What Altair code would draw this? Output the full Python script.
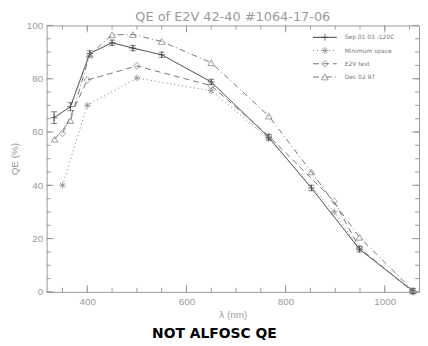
import altair as alt
import pandas as pd

# ---- data ----
series_names = ["Sep 01 03 -120C", "Minimum space", "E2V test", "Dec 02 97"]

wl_sep = [333, 366, 405, 450, 492, 550, 650, 766, 852, 949, 1057]
qe_sep = [65.4, 69.5, 89.5, 93.5, 91.5, 89.0, 78.8, 58.0, 39.0, 16.0, 0.3]
err_sep = [2.2, 1.5, 1.0, 1.0, 1.0, 1.0, 1.0, 1.0, 1.0, 1.0, 1.0]

wl_min = [350, 400, 500, 650, 766, 898, 949, 1057]
qe_min = [40.0, 70.0, 80.3, 75.5, 57.5, 30.0, 16.0, 0.0]

wl_e2v = [350, 400, 500, 650, 766, 898, 949, 1057]
qe_e2v = [59.5, 79.5, 84.8, 77.4, 58.5, 34.0, 16.5, 0.0]

wl_dec = [334, 366, 405, 450, 492, 550, 650, 766, 852, 949, 1057]
qe_dec = [57.3, 64.3, 89.0, 96.5, 96.6, 94.0, 86.0, 66.0, 45.0, 20.5, 0.5]

x_domain = [318, 1069]
y_domain = [0, 100]
x_major = [400, 600, 800, 1000]
x_minor = list(range(350, 1051, 50))
y_major = list(range(0, 101, 20))
y_minor = list(range(0, 101, 5))

rows = []
for name, wl, qe in [
    (series_names[0], wl_sep, qe_sep),
    (series_names[1], wl_min, qe_min),
    (series_names[2], wl_e2v, qe_e2v),
    (series_names[3], wl_dec, qe_dec),
]:
    for w, q in zip(wl, qe):
        rows.append({"series": name, "wl": w, "qe": q})
df = pd.DataFrame(rows)

err_df = pd.DataFrame({
    "wl": wl_sep,
    "lo": [q - e for q, e in zip(qe_sep, err_sep)],
    "hi": [q + e for q, e in zip(qe_sep, err_sep)],
})
leg_df = pd.DataFrame({"series": series_names})
xmaj_df = pd.DataFrame({"v": x_major})
xmin_df = pd.DataFrame({"v": x_minor})
ymaj_df = pd.DataFrame({"v": y_major})
ymin_df = pd.DataFrame({"v": y_minor})

# ---- styles ----
W, H = 376, 269
GRAY = "#9a9a9a"
FONT = "DejaVu Sans"
LFONT = "Liberation Sans"
PLUS = "M-1,0L1,0M0,-1L0,1"
STAR = "M-1,0L1,0M0,-1L0,1M-0.7,-0.7L0.7,0.7M-0.7,0.7L0.7,-0.7"
MAJ, MIN = 7, 4

dash_scale = alt.Scale(domain=series_names, range=[[1, 0], [1, 3], [6, 4], [6, 3, 1, 3]])
shape_scale = alt.Scale(domain=series_names, range=[PLUS, STAR, "diamond", "triangle-up"])
color_scale = alt.Scale(domain=series_names, range=["#333333", "#777777", "#777777", "#777777"])
xs = alt.Scale(domain=x_domain, nice=False, zero=False)
ys = alt.Scale(domain=y_domain, nice=False)

base = alt.Chart(df)

lines = base.mark_line(strokeWidth=1).encode(
    x=alt.X("wl:Q", scale=xs, axis=alt.Axis(
        orient="bottom", values=x_major, ticks=False, domain=False, grid=False, format="d",
        title="λ (nm)", labelPadding=5, titlePadding=3)),
    y=alt.Y("qe:Q", scale=ys, axis=alt.Axis(
        orient="left", values=y_major, ticks=False, domain=False, grid=False,
        title="QE (%)", labelPadding=4, titlePadding=7)),
    strokeDash=alt.StrokeDash("series:N", scale=dash_scale, legend=None),
    color=alt.Color("series:N", scale=color_scale, legend=None),
    detail="series:N",
)

points = base.mark_point(filled=False, size=45, strokeWidth=1).encode(
    x=alt.X("wl:Q", scale=xs, axis=None),
    y=alt.Y("qe:Q", scale=ys, axis=None),
    shape=alt.Shape("series:N", scale=shape_scale, legend=None),
    color=alt.Color("series:N", scale=color_scale, legend=None),
)

err_rule = alt.Chart(err_df).mark_rule(color="#555555", strokeWidth=1).encode(
    x=alt.X("wl:Q", scale=xs, axis=None),
    y=alt.Y("lo:Q", scale=ys, axis=None),
    y2="hi:Q",
)
err_lo = alt.Chart(err_df).mark_tick(orient="horizontal", size=6, thickness=1, color="#555555").encode(
    x=alt.X("wl:Q", scale=xs, axis=None),
    y=alt.Y("lo:Q", scale=ys, axis=None),
)
err_hi = alt.Chart(err_df).mark_tick(orient="horizontal", size=6, thickness=1, color="#555555").encode(
    x=alt.X("wl:Q", scale=xs, axis=None),
    y=alt.Y("hi:Q", scale=ys, axis=None),
)

# inside ticks on all four edges of the box
def xticks(d, length):
    bot = alt.Chart(d).mark_rule(color=GRAY, strokeWidth=1).encode(
        x=alt.X("v:Q", scale=xs, axis=None), y=alt.value(H), y2=alt.value(H - length))
    top = alt.Chart(d).mark_rule(color=GRAY, strokeWidth=1).encode(
        x=alt.X("v:Q", scale=xs, axis=None), y=alt.value(0), y2=alt.value(length))
    return [bot, top]

def yticks(d, length):
    left = alt.Chart(d).mark_rule(color=GRAY, strokeWidth=1).encode(
        y=alt.Y("v:Q", scale=ys, axis=None), x=alt.value(0), x2=alt.value(length))
    right = alt.Chart(d).mark_rule(color=GRAY, strokeWidth=1).encode(
        y=alt.Y("v:Q", scale=ys, axis=None), x=alt.value(W), x2=alt.value(W - length))
    return [left, right]

tick_layers = xticks(xmaj_df, MAJ) + xticks(xmin_df, MIN) + yticks(ymaj_df, MAJ) + yticks(ymin_df, MIN)

leg_y = alt.Y("series:N", sort=series_names, axis=None,
              scale=alt.Scale(type="point", domain=series_names, range=[12, 52], padding=0))
leg_base = alt.Chart(leg_df)
leg_rule = leg_base.mark_rule(strokeWidth=1).encode(
    x=alt.value(269), x2=alt.value(293), y=leg_y,
    strokeDash=alt.StrokeDash("series:N", scale=dash_scale, legend=None),
    color=alt.Color("series:N", scale=color_scale, legend=None),
)
leg_pts = leg_base.mark_point(filled=False, size=45, strokeWidth=1).encode(
    x=alt.value(281), y=leg_y,
    shape=alt.Shape("series:N", scale=shape_scale, legend=None),
    color=alt.Color("series:N", scale=color_scale, legend=None),
)
leg_txt = leg_base.mark_text(align="left", baseline="middle", fontSize=6, font=FONT, color="#777777").encode(
    x=alt.value(301), y=leg_y, text="series:N",
)

main = alt.layer(
    lines, points, err_rule, err_lo, err_hi, *tick_layers, leg_rule, leg_pts, leg_txt
).resolve_scale(
    y="independent"
).resolve_axis(
    x="independent", y="independent"
).properties(
    width=W, height=H,
    title=alt.TitleParams("QE of E2V 42-40 #1064-17-06", fontSize=13, font=FONT,
                          fontWeight="normal", color=GRAY, offset=-3, anchor="middle"),
)

chart = alt.vconcat(main).properties(
    title=alt.TitleParams("NOT ALFOSC QE", orient="bottom", anchor="middle", fontSize=14,
                          font=FONT, fontWeight="bold", color="black", offset=7),
    padding={"left": 0, "top": 0, "right": 0, "bottom": 0},
).configure_view(
    stroke=GRAY, strokeWidth=1
).configure_axis(
    labelFont=LFONT, labelFontSize=10, labelColor=GRAY,
    titleFont=LFONT, titleFontSize=10, titleColor=GRAY, titleFontWeight="normal",
).configure_concat(spacing=0)

chart.save("out.html", embed_options={"renderer": "svg", "actions": False})
